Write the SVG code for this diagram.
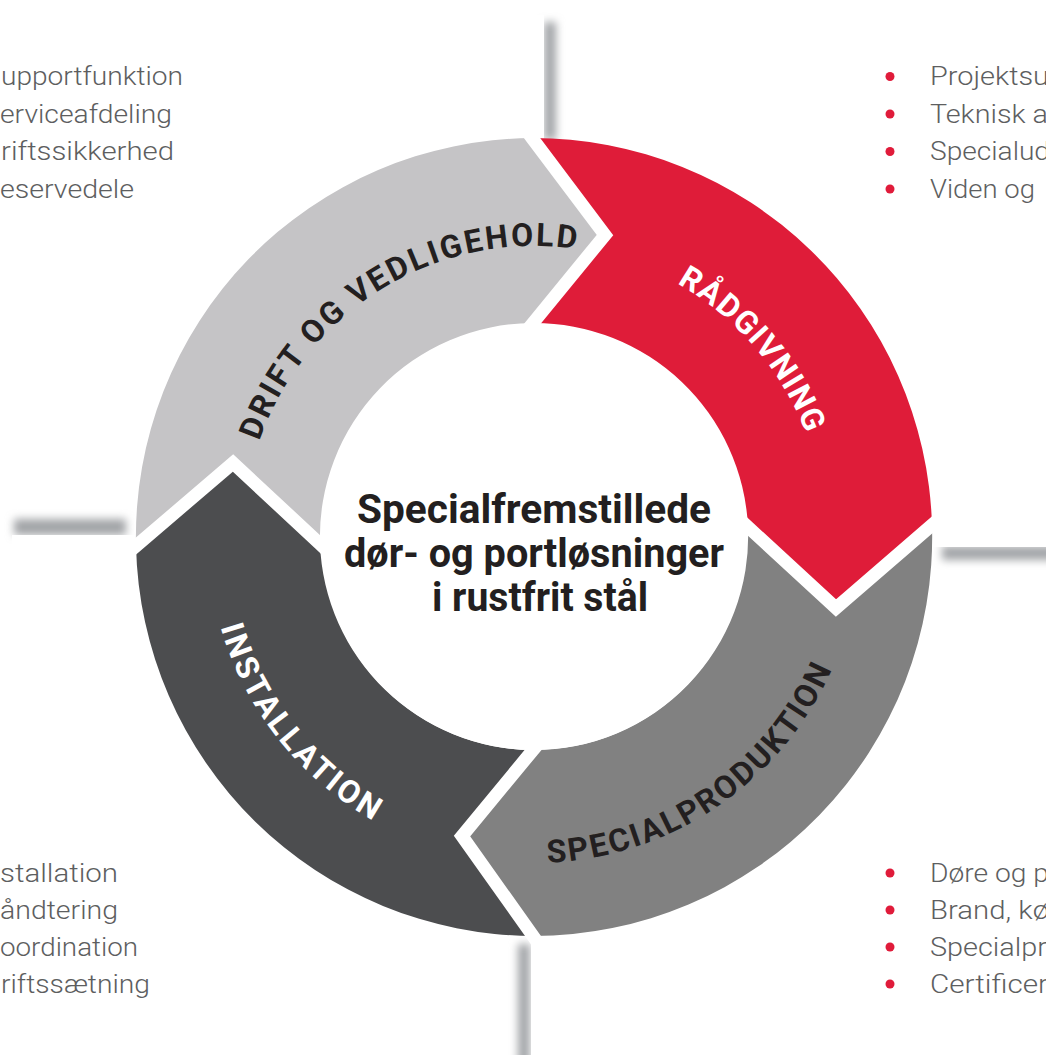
<svg xmlns="http://www.w3.org/2000/svg" width="1046" height="1055" viewBox="0 0 1046 1055">
<defs>
<style>
.bt{font-family:Roboto,"Liberation Sans",sans-serif;font-weight:300;font-size:26px;fill:#5d5e60}
.dot{fill:#e01b3a}
.lbl{font-family:Roboto,"Liberation Sans",sans-serif;font-weight:700;font-size:32px}
.dk{fill:#231f20}
.wh{fill:#ffffff}
.title{font-family:Roboto,"Liberation Sans",sans-serif;font-weight:700;font-size:40px;fill:#231f20;text-anchor:middle}
.gap{fill:none;stroke:#ffffff;stroke-width:13;stroke-linejoin:miter;stroke-miterlimit:10}
.sh{fill:#a2a4a7;filter:url(#blur)}
.bar{fill:#ffffff}
</style>
<filter id="blur" filterUnits="userSpaceOnUse" x="0" y="0" width="1046" height="1055"><feGaussianBlur stdDeviation="4"/></filter>
<path id="arcDrift" d="M243.04,542.08 A291,291 0 0 1 675.08,282.49"/>
<path id="arcRaad" d="M480.47,250.96 A291,291 0 0 1 808.48,633.66"/>
<path id="arcSpec" d="M393.14,831 A326,326 0 0 0 859.04,511.99"/>
<path id="arcInst" d="M230.68,417.52 A326,326 0 0 0 582.19,859.42"/>
</defs>
<rect width="1046" height="1055" fill="#ffffff"/>

<g id="connectors">
  <rect class="sh" x="544" y="22" width="12" height="118"/>
  <rect class="bar" x="532" y="15" width="12" height="124"/>
  <rect class="sh" x="942" y="546" width="120" height="14"/>
  <rect class="bar" x="930" y="534" width="116" height="13"/>
  <rect class="sh" x="518" y="944" width="12" height="120"/>
  <rect class="bar" x="531" y="934" width="12" height="121"/>
  <rect class="sh" x="14" y="519" width="112" height="16"/>
  <rect class="bar" x="12" y="535" width="126" height="12"/>
</g>

<g id="seg-raadgivning">
  <path fill="#df1c39" d="M533,323 L605,235 L532,138 A399,399 0 0 1 932,525 L836,608 L748,527 A214,214 0 0 0 533,323 Z"/>
  <text class="lbl wh" text-anchor="middle" letter-spacing="1.2"><textPath href="#arcRaad" startOffset="50%">RÅDGIVNING</textPath></text>
</g>
<g id="seg-specialproduktion">
  <path fill="#818181" d="M748,527 L836,608 L932,525 A399,399 0 0 1 533,936 L462,836 L533,750 A214,214 0 0 0 748,527 Z"/>
  <text class="lbl dk" text-anchor="middle" letter-spacing="2.2"><textPath href="#arcSpec" startOffset="50%">SPECIALPRODUKTION</textPath></text>
</g>
<g id="seg-installation">
  <path fill="#4c4d4f" d="M533,750 L462,836 L533,936 A399,399 0 0 1 136,546 L233,463 L320,544 A214,214 0 0 0 533,750 Z"/>
  <text class="lbl wh" text-anchor="middle" letter-spacing="3"><textPath href="#arcInst" startOffset="50%">INSTALLATION</textPath></text>
</g>
<g id="seg-drift">
  <path fill="#c5c4c6" d="M320,544 L233,463 L136,546 A399,399 0 0 1 532,138 L605,235 L533,323 A214,214 0 0 0 320,544 Z"/>
  <text class="lbl dk" text-anchor="middle" letter-spacing="2.4"><textPath href="#arcDrift" startOffset="50%">DRIFT OG VEDLIGEHOLD</textPath></text>
</g>

<g id="gaps">
  <polyline class="gap" points="528,329.2 533,323 605,235 532,138 526.9,131.2"/>
  <polyline class="gap" points="741.8,521.3 748,527 836,608 932,525 938.7,519.2"/>
  <polyline class="gap" points="538,744 533,750 462,836 533,936 538,943"/>
  <polyline class="gap" points="326.1,549.7 320,544 233,463 136,546 129.2,551.8"/>
</g>

<g id="center">
  <circle cx="534" cy="537" r="213" fill="#ffffff"/>
  <text class="title" x="534" y="523" textLength="354" lengthAdjust="spacingAndGlyphs">Specialfremstillede</text>
  <text class="title" x="534" y="567" textLength="380" lengthAdjust="spacingAndGlyphs">dør- og portløsninger</text>
  <text class="title" x="540" y="611" textLength="216" lengthAdjust="spacingAndGlyphs">i rustfrit stål</text>
</g>

<g id="list-drift">
  <text class="bt" x="1" y="85" textLength="182" lengthAdjust="spacingAndGlyphs">upportfunktion</text>
  <text class="bt" x="0" y="122.5" textLength="172" lengthAdjust="spacingAndGlyphs">erviceafdeling</text>
  <text class="bt" x="1" y="160" textLength="173" lengthAdjust="spacingAndGlyphs">riftssikkerhed</text>
  <text class="bt" x="0" y="197.5" textLength="134" lengthAdjust="spacingAndGlyphs">eservedele</text>
</g>

<g id="list-raadgivning">
  <circle class="dot" cx="890" cy="76.5" r="4.5"/>
  <circle class="dot" cx="890" cy="114" r="4.5"/>
  <circle class="dot" cx="890" cy="151.5" r="4.5"/>
  <circle class="dot" cx="890" cy="189" r="4.5"/>
  <text class="bt" x="930" y="85" textLength="119" lengthAdjust="spacingAndGlyphs">Projektsu</text>
  <text class="bt" x="930" y="122.5" textLength="118" lengthAdjust="spacingAndGlyphs">Teknisk a</text>
  <text class="bt" x="930" y="160" textLength="120" lengthAdjust="spacingAndGlyphs">Specialud</text>
  <text class="bt" x="930" y="197.5" textLength="105" lengthAdjust="spacingAndGlyphs">Viden og</text>
</g>

<g id="list-installation">
  <text class="bt" x="0" y="882" textLength="118" lengthAdjust="spacingAndGlyphs">stallation</text>
  <text class="bt" x="0" y="919" textLength="118" lengthAdjust="spacingAndGlyphs">åndtering</text>
  <text class="bt" x="0" y="956" textLength="138" lengthAdjust="spacingAndGlyphs">oordination</text>
  <text class="bt" x="1" y="993" textLength="149" lengthAdjust="spacingAndGlyphs">riftssætning</text>
</g>

<g id="list-specialproduktion">
  <circle class="dot" cx="890" cy="873" r="4.5"/>
  <circle class="dot" cx="890" cy="910" r="4.5"/>
  <circle class="dot" cx="890" cy="947" r="4.5"/>
  <circle class="dot" cx="890" cy="984" r="4.5"/>
  <text class="bt" x="930" y="882" textLength="119" lengthAdjust="spacingAndGlyphs">Døre og p</text>
  <text class="bt" x="930" y="919" textLength="119" lengthAdjust="spacingAndGlyphs">Brand, kø</text>
  <text class="bt" x="930" y="956" textLength="117" lengthAdjust="spacingAndGlyphs">Specialpr</text>
  <text class="bt" x="930" y="993" textLength="118" lengthAdjust="spacingAndGlyphs">Certificer</text>
</g>
</svg>
